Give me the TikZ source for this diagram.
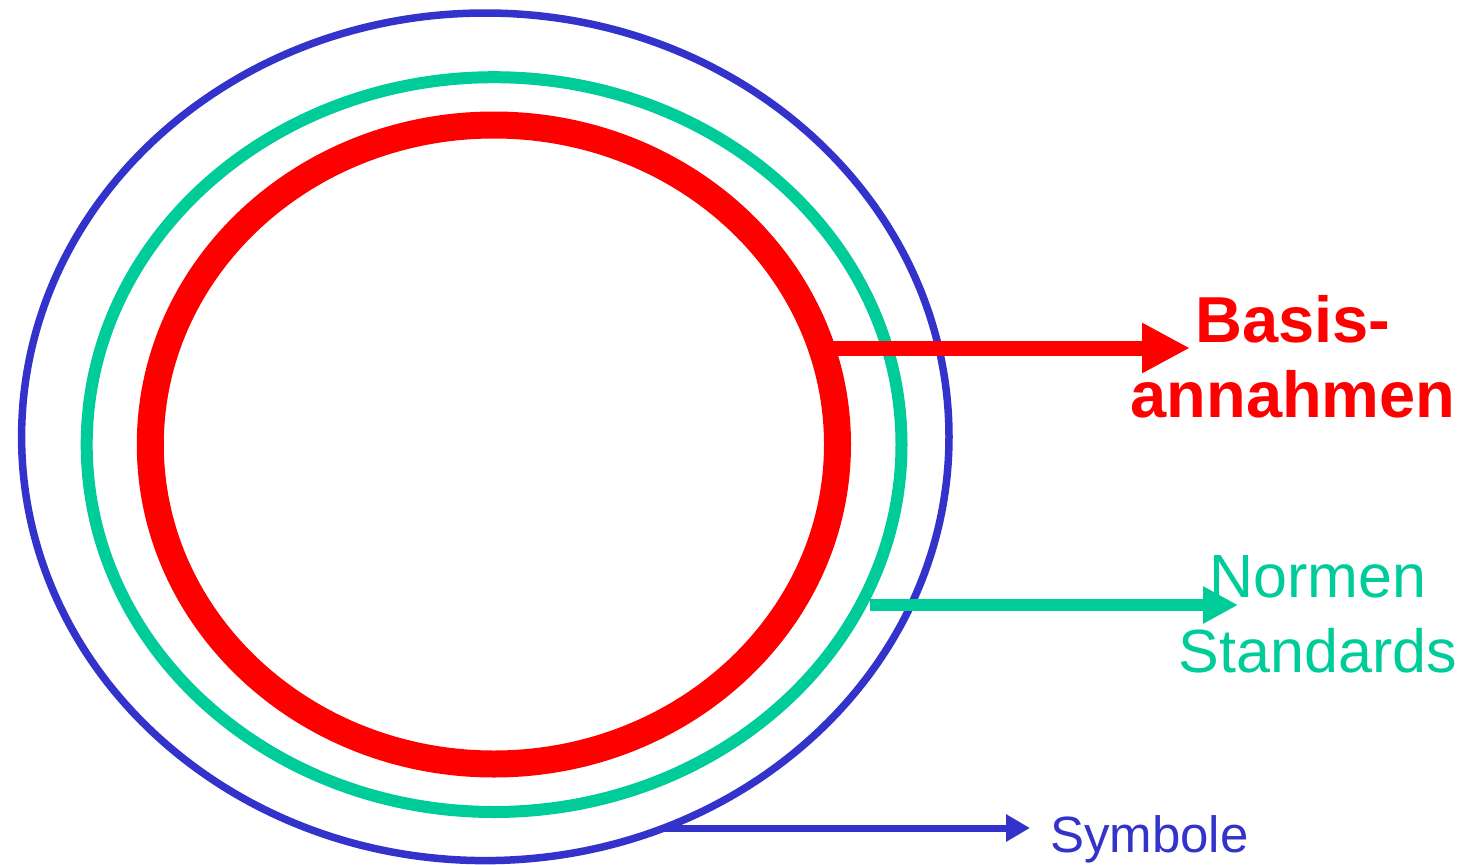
\documentclass[tikz,border=0pt]{standalone}
\usepackage{fontspec}
\usepackage{tikz}
\usetikzlibrary{arrows.meta,positioning,calc}
\usepackage{xcolor}
\newfontfamily\labelfont{Liberation Sans}
\definecolor{syblue}{RGB}{51,51,204}
\definecolor{nsgreen}{RGB}{0,204,153}
\definecolor{bared}{RGB}{255,0,0}
\tikzstyle{ringblue} = [draw=syblue, line width=7.5pt]
\tikzstyle{ringgreen} = [draw=nsgreen, line width=12pt]
\tikzstyle{ringred} = [draw=bared, line width=27pt]
\tikzstyle{labeltext} = [inner sep=0pt, align=center, font=\labelfont]

\begin{document}
\begin{tikzpicture}[x=1pt, y=-1pt]
\useasboundingbox (0,0) rectangle (1484,865);
% Rings
\coordinate (cblue) at (485.3,436.8);
\coordinate (cgreen) at (494.1,444.6);
\coordinate (cred) at (493.9,444.5);
\draw[ringblue] (cblue) ellipse [x radius=463.7pt, y radius=423.8pt];
\draw[ringgreen] (cgreen) ellipse [x radius=407.4pt, y radius=367.4pt];
\draw[ringred] (cred) ellipse [x radius=343.6pt, y radius=319.5pt];

% Labels
\node[labeltext, anchor=base, text=bared, font=\labelfont\bfseries\fontsize{65}{75}\selectfont] (basis) at (1293,417) {Basis-\\annahmen};
\node[labeltext, anchor=base, text=nsgreen, font=\labelfont\fontsize{61}{75}\selectfont] (normen) at (1318,672) {Normen\\Standards};
\node[labeltext, anchor=base west, text=syblue, font=\labelfont\fontsize{51}{55}\selectfont] (symbole) at (1050,852) {Symbole};

% Arrows
\coordinate (rfrom) at (833,348);
\coordinate (rto) at (1190,348);
\coordinate (gfrom) at (870,605);
\coordinate (gto) at (1238,605);
\coordinate (bfrom) at (662,828);
\coordinate (bto) at (1030,828);
\draw[bared, line width=15pt, -{Triangle[length=48pt, width=47pt]}] (rfrom) -- (rto);
\draw[nsgreen, line width=12pt, -{Triangle[length=35pt, width=35pt]}] (gfrom) -- (gto);
\draw[syblue, line width=7pt, -{Triangle[length=24pt, width=26pt]}] (bfrom) -- (bto);
\end{tikzpicture}
\end{document}
